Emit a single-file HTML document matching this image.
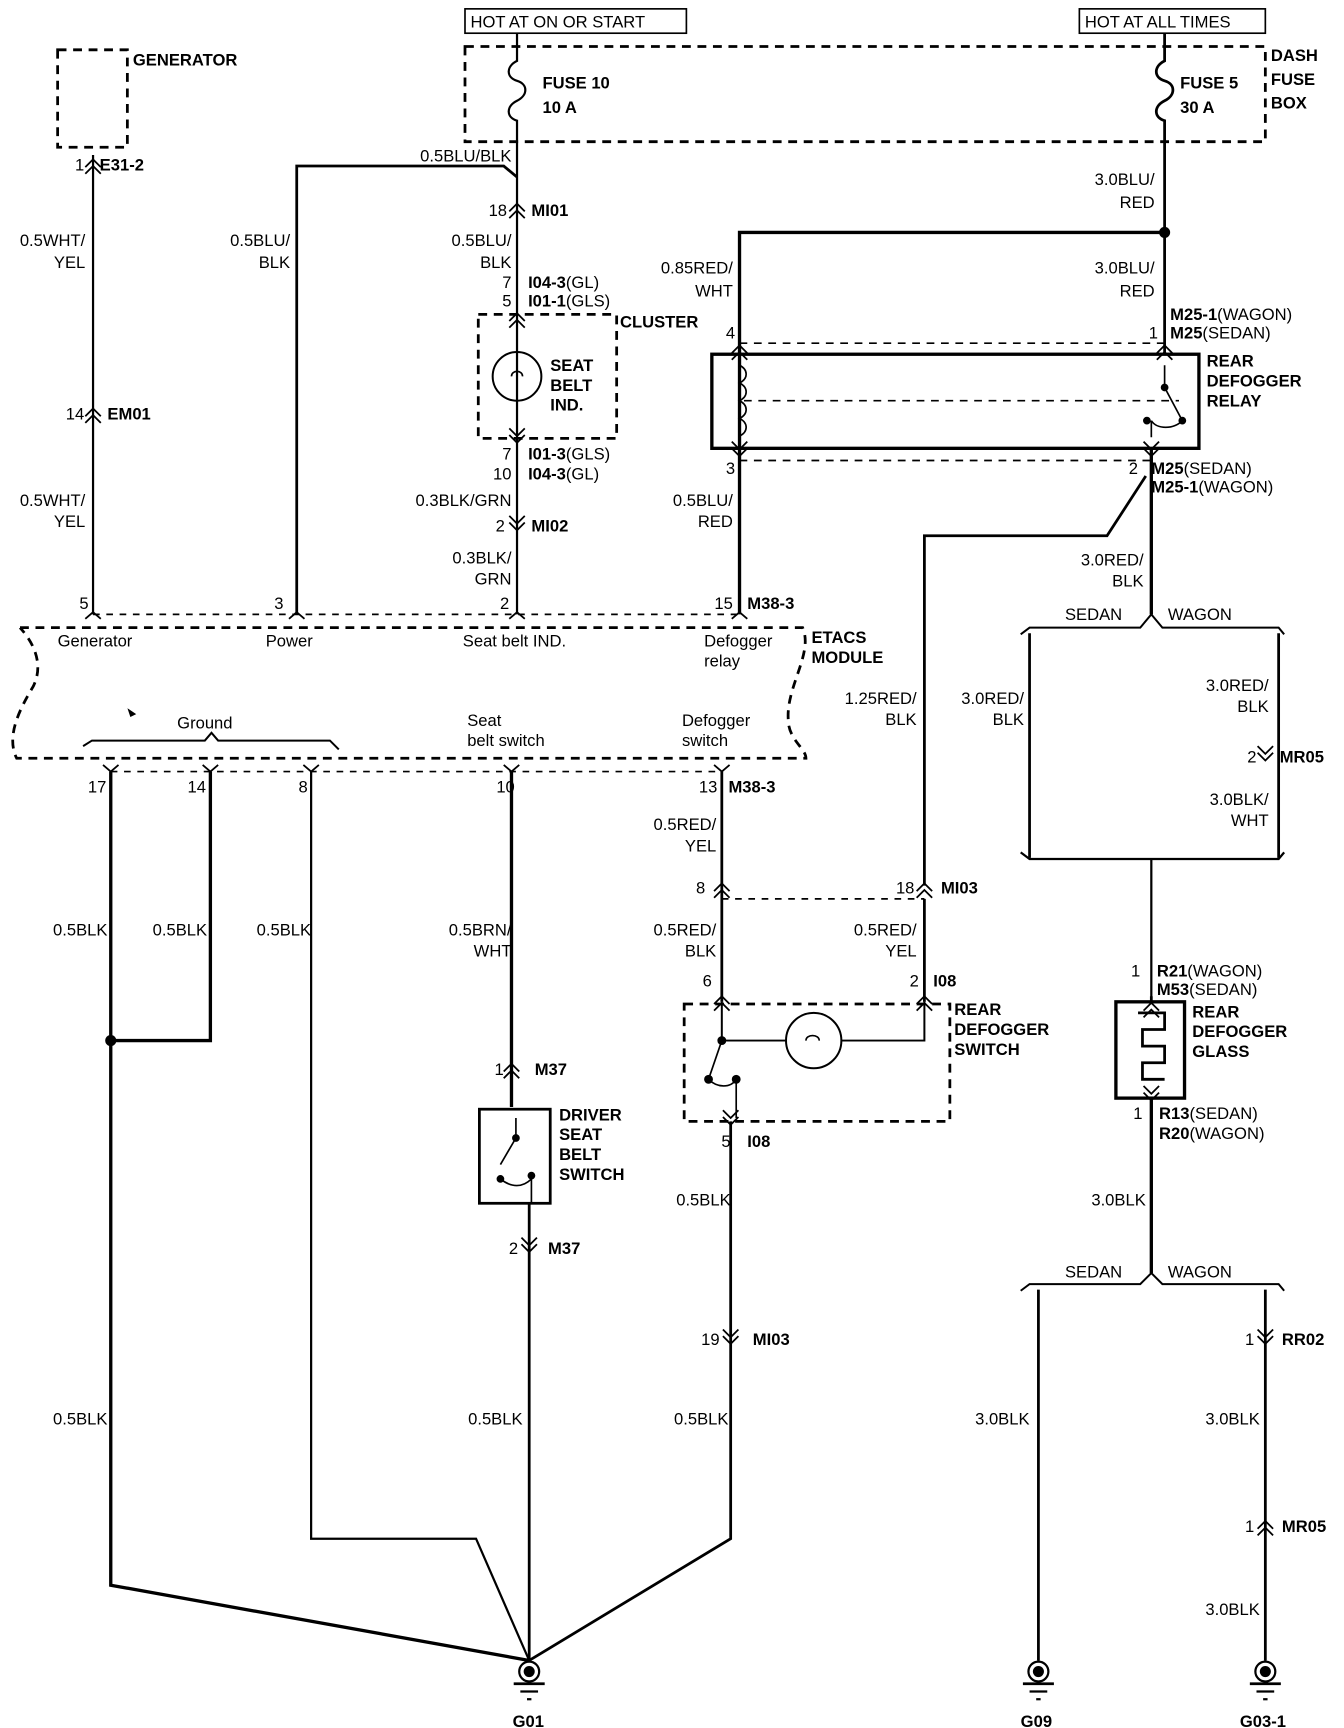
<!DOCTYPE html>
<html><head><meta charset="utf-8"><style>
html,body{margin:0;padding:0;background:#fff}
svg{display:block}
text{font-family:"Liberation Sans",Arial,sans-serif;font-size:15px;fill:#000}
.b{font-weight:bold}
</style></head><body>
<svg width="1344" height="1728" viewBox="0 0 1214 1561" xmlns="http://www.w3.org/2000/svg">
<defs>
<path id="up" d="M-7,3 L0,-4 L7,3 M-7,9 L0,2 L7,9" fill="none" stroke="#000" stroke-width="1.6"/>
<path id="dn" d="M-7,-3 L0,4 L7,-3 M-7,-9 L0,-2 L7,-9" fill="none" stroke="#000" stroke-width="1.6"/>
<path id="pinU" d="M-7,6 L0,0 L7,6" fill="none" stroke="#000" stroke-width="1.6"/>
<path id="pinD" d="M-7,-6 L0,0 L7,-6" fill="none" stroke="#000" stroke-width="1.6"/>
<g id="gnd"><circle r="9" fill="#fff" stroke="#000" stroke-width="2"/><circle r="5" fill="#000"/><line x1="-14" y1="11" x2="14" y2="11" stroke="#000" stroke-width="2.5"/><line x1="-8" y1="18" x2="8" y2="18" stroke="#000" stroke-width="2"/><line x1="-2" y1="25" x2="2" y2="25" stroke="#000" stroke-width="2"/></g>
</defs>
<g fill="none" stroke="#000">
<!-- top boxes -->
<rect x="420" y="8" width="200" height="22" stroke-width="1.5"/>
<rect x="975" y="8" width="168" height="22" stroke-width="1.5"/>
<rect x="420" y="42" width="723" height="86" stroke-width="2.5" stroke-dasharray="8,6"/>
<rect x="52" y="45" width="63" height="88" stroke-width="2.5" stroke-dasharray="8,6"/>
<!-- fuses -->
<path d="M467,30 V55 c-10,5 -10,15 0,18 c10,3 10,13 0,18 c-10,5 -10,15 0,18 V555" stroke-width="2"/>
<path d="M1052,30 V55 c-10,5 -10,15 0,18 c10,3 10,13 0,18 c-10,5 -10,15 0,18 V320" stroke-width="2.5"/>
<!-- generator wire -->
<line x1="84" y1="140" x2="84" y2="555" stroke-width="2"/>
<!-- power wire -->
<path d="M268,555 V150 H455 L467,160" stroke-width="2.5"/>
<!-- cluster -->
<rect x="432" y="284" width="125" height="112" stroke-width="2.5" stroke-dasharray="8,6"/>
<circle cx="467" cy="340" r="22" stroke-width="1.8"/>
<path d="M462,340 c0,-6 10,-6 10,0" stroke-width="1.5"/>
<!-- bus -->
<path d="M668,555 V210 H1052" stroke-width="3"/>
<!-- relay -->
<rect x="643" y="320" width="440" height="85" stroke-width="3"/>
<line x1="668" y1="310" x2="1052" y2="310" stroke-width="1.5" stroke-dasharray="7,6"/>
<line x1="668" y1="416" x2="1040" y2="416" stroke-width="1.5" stroke-dasharray="7,6"/>
<line x1="672" y1="362" x2="1065" y2="362" stroke-width="1.5" stroke-dasharray="7,6"/>
<path d="M668,330 c8,4 8,12 0,16 c8,4 8,12 0,16 c8,4 8,12 0,16 c8,4 8,12 0,16" stroke-width="1.5"/>
<path d="M1052,330 V350 L1068,380 M1040,395 V380 M1040,380 c5,8 20,8 28,0" stroke-width="1.5"/>
<circle cx="1052" cy="350" r="3" fill="#000"/><circle cx="1068" cy="380" r="3" fill="#000"/><circle cx="1036" cy="380" r="3" fill="#000"/>
<!-- relay output -->
<path d="M1040,405 V555" stroke-width="3"/>
<path d="M1035,430 L1000,484 H835 V800" stroke-width="2.5"/>
<!-- sedan/wagon 1 -->
<path d="M1040,555 l-10,12 H930 l-8,6 M1040,555 l10,12 H1155 l5,6" stroke-width="1.8"/>
<line x1="930" y1="572" x2="930" y2="775" stroke-width="2.5"/>
<line x1="1155" y1="572" x2="1155" y2="775" stroke-width="2.5"/>
<path d="M922,770 l8,6 H1155 l5,-6 M1040,776 V905" stroke-width="2"/>
<!-- glass -->
<rect x="1008" y="905" width="62" height="87" stroke-width="3"/>
<path d="M1028,915 H1052 V930 H1032 V945 H1052 V960 H1032 V975 H1052" stroke-width="2.5"/>
<line x1="1040" y1="900" x2="1040" y2="905" stroke-width="2.5"/>
<path d="M1040,992 V1150" stroke-width="3"/>
<path d="M1040,1150 l-10,10 H930 l-8,6 M1040,1150 l10,10 H1155 l5,6" stroke-width="1.8"/>
<line x1="938" y1="1165" x2="938" y2="1500" stroke-width="2.5"/>
<line x1="1143" y1="1165" x2="1143" y2="1500" stroke-width="2.5"/>
<!-- ETACS -->
<line x1="84" y1="555" x2="668" y2="555" stroke-width="1.5" stroke-dasharray="6,6"/>
<path d="M18,567 H725 C735,590 710,620 712,650 C712,668 728,676 728,685 H15 C5,665 18,640 30,620 C40,600 30,580 18,567" stroke-width="2.5" stroke-dasharray="8,6"/>
<path d="M75,674 l8,-5 H185 l6,-7 l6,7 H298 l8,8" stroke-width="1.8"/>
<path d="M116,641 l6,4 l-4,2z" fill="#000"/>
<line x1="100" y1="697" x2="652" y2="697" stroke-width="1.5" stroke-dasharray="6,6"/>
<!-- ground wires -->
<path d="M100,697 V1432 L478,1500" stroke-width="3"/>
<path d="M190,697 V940 H100" stroke-width="3"/>
<path d="M281,697 V1390 H430 L478,1500" stroke-width="2"/>
<path d="M462,697 V1000" stroke-width="3"/>
<rect x="433" y="1002" width="64" height="85" stroke-width="2.5"/>
<path d="M466,1010 V1028 L452,1052 M480,1062 V1087 M452,1065 c10,8 20,8 28,0" stroke-width="1.5"/>
<circle cx="466" cy="1028" r="3" fill="#000"/><circle cx="452" cy="1065" r="3" fill="#000"/><circle cx="480" cy="1062" r="3" fill="#000"/>
<path d="M478,1087 V1500" stroke-width="2.5"/>
<path d="M545,1500 L545,1500"/>
<!-- defogger switch -->
<path d="M652,697 V905" stroke-width="2.5"/>
<line x1="652" y1="812" x2="835" y2="812" stroke-width="1.5" stroke-dasharray="6,6"/>
<path d="M835,812 V905" stroke-width="2.5"/>
<rect x="618" y="907" width="240" height="106" stroke-width="2.5" stroke-dasharray="8,6"/>
<path d="M652,905 V940 H835 V905" stroke-width="1.8"/>
<circle cx="735" cy="940" r="25" stroke-width="1.8" fill="#fff"/>
<path d="M728,940 c0,-6 12,-6 12,0" stroke-width="1.5"/>
<path d="M652,940 L640,975 M665,975 V1010 M640,975 c8,8 20,8 25,0" stroke-width="1.5"/>
<circle cx="652" cy="940" r="3.5" fill="#000"/><circle cx="640" cy="975" r="3.5" fill="#000"/><circle cx="665" cy="975" r="3.5" fill="#000"/>
<path d="M660,1013 V1390 L478,1500" stroke-width="2.5"/>
</g>
<circle cx="1052" cy="210" r="5"/>
<circle cx="100" cy="940" r="5"/>
<!-- connectors -->
<use href="#up" x="84" y="148"/><use href="#up" x="84" y="373"/>
<use href="#up" x="467" y="188"/><use href="#up" x="467" y="287"/><use href="#dn" x="467" y="396"/><use href="#dn" x="467" y="475"/>
<use href="#up" x="668" y="316"/><use href="#dn" x="668" y="408"/>
<use href="#up" x="1052" y="316"/><use href="#dn" x="1040" y="408"/>
<use href="#dn" x="1143" y="683"/><use href="#up" x="1040" y="910"/><use href="#dn" x="1040" y="990"/>
<use href="#dn" x="1143" y="1210"/><use href="#up" x="1143" y="1378"/>
<use href="#up" x="652" y="802"/><use href="#up" x="835" y="802"/><use href="#up" x="652" y="904"/><use href="#up" x="835" y="904"/>
<use href="#dn" x="660" y="1012"/><use href="#dn" x="660" y="1210"/>
<use href="#up" x="462" y="965"/><use href="#dn" x="478" y="1127"/>
<use href="#pinU" x="84" y="553"/><use href="#pinU" x="268" y="553"/><use href="#pinU" x="467" y="553"/><use href="#pinU" x="668" y="553"/>
<use href="#pinD" x="100" y="697"/><use href="#pinD" x="190" y="697"/><use href="#pinD" x="281" y="697"/><use href="#pinD" x="462" y="697"/><use href="#pinD" x="652" y="697"/>
<use href="#gnd" x="478" y="1510"/><use href="#gnd" x="938" y="1510"/><use href="#gnd" x="1143" y="1510"/>
<!-- text -->
<text x="425" y="25">HOT AT ON OR START</text>
<text x="980" y="25">HOT AT ALL TIMES</text>
<g class="b">
<text x="120" y="59" class="b">GENERATOR</text>
<text x="1148" y="55" class="b">DASH</text><text x="1148" y="77" class="b">FUSE</text><text x="1148" y="98" class="b">BOX</text>
<text x="490" y="80" class="b">FUSE 10</text><text x="490" y="102" class="b">10 A</text>
<text x="1066" y="80" class="b">FUSE 5</text><text x="1066" y="102" class="b">30 A</text>
<text x="90" y="154" class="b">E31-2</text>
<text x="97" y="379" class="b">EM01</text>
<text x="480" y="195" class="b">MI01</text>
<text x="477" y="260" class="b">I04-3<tspan font-weight="normal">(GL)</tspan></text>
<text x="477" y="277" class="b">I01-1<tspan font-weight="normal">(GLS)</tspan></text>
<text x="560" y="296" class="b">CLUSTER</text>
<text x="497" y="335" class="b">SEAT</text><text x="497" y="353" class="b">BELT</text><text x="497" y="371" class="b">IND.</text>
<text x="477" y="415" class="b">I01-3<tspan font-weight="normal">(GLS)</tspan></text>
<text x="477" y="433" class="b">I04-3<tspan font-weight="normal">(GL)</tspan></text>
<text x="480" y="480" class="b">MI02</text>
<text x="1057" y="289" class="b">M25-1<tspan font-weight="normal">(WAGON)</tspan></text>
<text x="1057" y="306" class="b">M25<tspan font-weight="normal">(SEDAN)</tspan></text>
<text x="1090" y="331" class="b">REAR</text><text x="1090" y="349" class="b">DEFOGGER</text><text x="1090" y="367" class="b">RELAY</text>
<text x="1040" y="428" class="b">M25<tspan font-weight="normal">(SEDAN)</tspan></text>
<text x="1040" y="445" class="b">M25-1<tspan font-weight="normal">(WAGON)</tspan></text>
<text x="675" y="550" class="b">M38-3</text>
<text x="733" y="581" class="b">ETACS</text><text x="733" y="599" class="b">MODULE</text>
<text x="1156" y="689" class="b">MR05</text>
<text x="1045" y="882" class="b">R21<tspan font-weight="normal">(WAGON)</tspan></text>
<text x="1045" y="899" class="b">M53<tspan font-weight="normal">(SEDAN)</tspan></text>
<text x="1077" y="919" class="b">REAR</text><text x="1077" y="937" class="b">DEFOGGER</text><text x="1077" y="955" class="b">GLASS</text>
<text x="1047" y="1011" class="b">R13<tspan font-weight="normal">(SEDAN)</tspan></text>
<text x="1047" y="1029" class="b">R20<tspan font-weight="normal">(WAGON)</tspan></text>
<text x="1158" y="1215" class="b">RR02</text>
<text x="1158" y="1384" class="b">MR05</text>
<text x="658" y="716" class="b">M38-3</text>
<text x="850" y="807" class="b">MI03</text>
<text x="843" y="891" class="b">I08</text>
<text x="862" y="917" class="b">REAR</text><text x="862" y="935" class="b">DEFOGGER</text><text x="862" y="953" class="b">SWITCH</text>
<text x="675" y="1036" class="b">I08</text>
<text x="680" y="1215" class="b">MI03</text>
<text x="483" y="971" class="b">M37</text>
<text x="495" y="1133" class="b">M37</text>
<text x="505" y="1012" class="b">DRIVER</text><text x="505" y="1030" class="b">SEAT</text><text x="505" y="1048" class="b">BELT</text><text x="505" y="1066" class="b">SWITCH</text>
<text x="463" y="1560" class="b">G01</text><text x="922" y="1560" class="b">G09</text><text x="1120" y="1560" class="b">G03-1</text>
</g>
<g text-anchor="end">
<text x="76" y="154">1</text><text x="76" y="379">14</text>
<text x="77" y="222">0.5WHT/</text><text x="77" y="242">YEL</text>
<text x="77" y="457">0.5WHT/</text><text x="77" y="476">YEL</text>
<text x="262" y="222">0.5BLU/</text><text x="262" y="242">BLK</text>
<text x="462" y="146">0.5BLU/BLK</text>
<text x="458" y="195">18</text>
<text x="462" y="222">0.5BLU/</text><text x="462" y="242">BLK</text>
<text x="462" y="260">7</text><text x="462" y="277">5</text>
<text x="462" y="415">7</text><text x="462" y="433">10</text>
<text x="462" y="457">0.3BLK/GRN</text>
<text x="456" y="480">2</text>
<text x="462" y="509">0.3BLK/</text><text x="462" y="528">GRN</text>
<text x="1043" y="167">3.0BLU/</text><text x="1043" y="188">RED</text>
<text x="1043" y="247">3.0BLU/</text><text x="1043" y="268">RED</text>
<text x="662" y="247">0.85RED/</text><text x="662" y="268">WHT</text>
<text x="1046" y="306">1</text><text x="664" y="306">4</text>
<text x="664" y="428">3</text><text x="1028" y="428">2</text>
<text x="662" y="457">0.5BLU/</text><text x="662" y="476">RED</text>
<text x="1033" y="511">3.0RED/</text><text x="1033" y="530">BLK</text>
<text x="80" y="550">5</text><text x="256" y="550">3</text><text x="460" y="550">2</text><text x="662" y="550">15</text>
<text x="828" y="636">1.25RED/</text><text x="828" y="655">BLK</text>
<text x="925" y="636">3.0RED/</text><text x="925" y="655">BLK</text>
<text x="1146" y="624">3.0RED/</text><text x="1146" y="643">BLK</text>
<text x="1135" y="689">2</text>
<text x="1146" y="727">3.0BLK/</text><text x="1146" y="746">WHT</text>
<text x="1030" y="882">1</text><text x="1032" y="1011">1</text>
<text x="1035" y="1089">3.0BLK</text>
<text x="930" y="1287">3.0BLK</text><text x="1138" y="1287">3.0BLK</text><text x="1138" y="1459">3.0BLK</text>
<text x="1133" y="1215">1</text><text x="1133" y="1384">1</text>
<text x="96" y="716">17</text><text x="186" y="716">14</text><text x="278" y="716">8</text><text x="465" y="716">10</text><text x="648" y="716">13</text>
<text x="97" y="845">0.5BLK</text><text x="187" y="845">0.5BLK</text><text x="281" y="845">0.5BLK</text>
<text x="462" y="845">0.5BRN/</text><text x="462" y="864">WHT</text>
<text x="647" y="750">0.5RED/</text><text x="647" y="769">YEL</text>
<text x="637" y="807">8</text><text x="826" y="807">18</text>
<text x="647" y="845">0.5RED/</text><text x="647" y="864">BLK</text>
<text x="828" y="845">0.5RED/</text><text x="828" y="864">YEL</text>
<text x="643" y="891">6</text><text x="830" y="891">2</text>
<text x="660" y="1036">5</text>
<text x="660" y="1089">0.5BLK</text>
<text x="650" y="1215">19</text>
<text x="455" y="971">1</text><text x="468" y="1133">2</text>
<text x="97" y="1287">0.5BLK</text><text x="472" y="1287">0.5BLK</text><text x="658" y="1287">0.5BLK</text>
</g>
<text x="962" y="560">SEDAN</text><text x="1055" y="560">WAGON</text>
<text x="962" y="1154">SEDAN</text><text x="1055" y="1154">WAGON</text>
<text x="52" y="584">Generator</text><text x="240" y="584">Power</text><text x="418" y="584">Seat belt IND.</text>
<text x="636" y="584">Defogger</text><text x="636" y="602">relay</text>
<text x="160" y="658">Ground</text>
<text x="422" y="656">Seat</text><text x="422" y="674">belt switch</text>
<text x="616" y="656">Defogger</text><text x="616" y="674">switch</text>
</svg>
</body></html>
